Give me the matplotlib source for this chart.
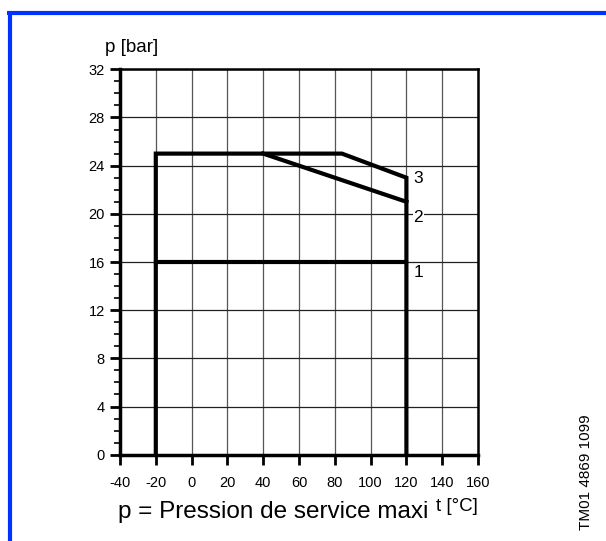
import matplotlib.pyplot as plt
from matplotlib.lines import Line2D
import numpy as np

plt.rcParams['font.family'] = ['Liberation Sans', 'DejaVu Sans']

# data
outline_t = [-20, -20, 84, 120, 120]
outline_p = [0, 25, 25, 23, 0]
curve1_t = [-20, 120]
curve1_p = [16, 16]
curve2_t = [40, 120]
curve2_p = [25, 21]
curve_labels = ['1', '2', '3']
label_p = [15.1, 19.7, 22.9]
x_ticks = list(range(-40, 161, 20))
y_ticks = list(range(0, 33, 4))

fig = plt.figure(figsize=(6.06, 5.41), dpi=100)
ax = fig.add_axes([0.198, 0.1595, 0.5908, 0.7124])

ax.set_xlim(-40, 160)
ax.set_ylim(0, 32)
ax.set_xticks(x_ticks)
ax.set_xticklabels([str(v) for v in x_ticks])
ax.set_yticks(y_ticks)
ax.set_yticklabels([str(v) for v in y_ticks])
ax.set_yticks(np.arange(0, 33, 1), minor=True)

ax.grid(True, which='major', axis='y', color='#222222', linewidth=0.9)
ax.grid(True, which='major', axis='x', color='#555555', linewidth=0.9)
ax.set_axisbelow(True)

ax.tick_params(axis='both', which='major', direction='out', length=7, width=2,
               labelsize=10.5)
ax.tick_params(axis='x', which='major', pad=8)
ax.tick_params(axis='y', which='major', pad=4)
ax.tick_params(axis='y', which='minor', direction='out', length=4, width=1.2)

for side in ['left', 'bottom']:
    ax.spines[side].set_linewidth(2.5)
for side in ['top', 'right']:
    ax.spines[side].set_linewidth(1.8)

ax.plot(outline_t, outline_p, color='black', lw=3, solid_joinstyle='miter', clip_on=False)
ax.plot(curve1_t, curve1_p, color='black', lw=3)
ax.plot(curve2_t, curve2_p, color='black', lw=3)

for lab, p in zip(curve_labels, label_p):
    ax.text(124, p, lab, fontsize=12.5, ha='left', va='center',
            bbox=dict(facecolor='white', edgecolor='none', pad=0.3))

fig.text(0.173, 0.913, 'p [bar]', fontsize=13.5, ha='left', va='center')
fig.text(0.195, 0.054, 'p = Pression de service maxi', fontsize=17.5, ha='left', va='center')
fig.text(0.72, 0.063, 't [°C]', fontsize=13.5, ha='left', va='center')
fig.text(0.967, 0.02, 'TM01 4869 1099', fontsize=11, rotation=90, ha='center', va='bottom')

# blue frame lines
blue = '#0033ff'
fig.add_artist(Line2D([0.0115, 1.0], [0.9765, 0.9765], color=blue, lw=3, solid_capstyle='butt'))
fig.add_artist(Line2D([0.0165, 0.0165], [0.0, 0.9795], color=blue, lw=3, solid_capstyle='butt'))

fig.savefig('out.png', dpi=100)
